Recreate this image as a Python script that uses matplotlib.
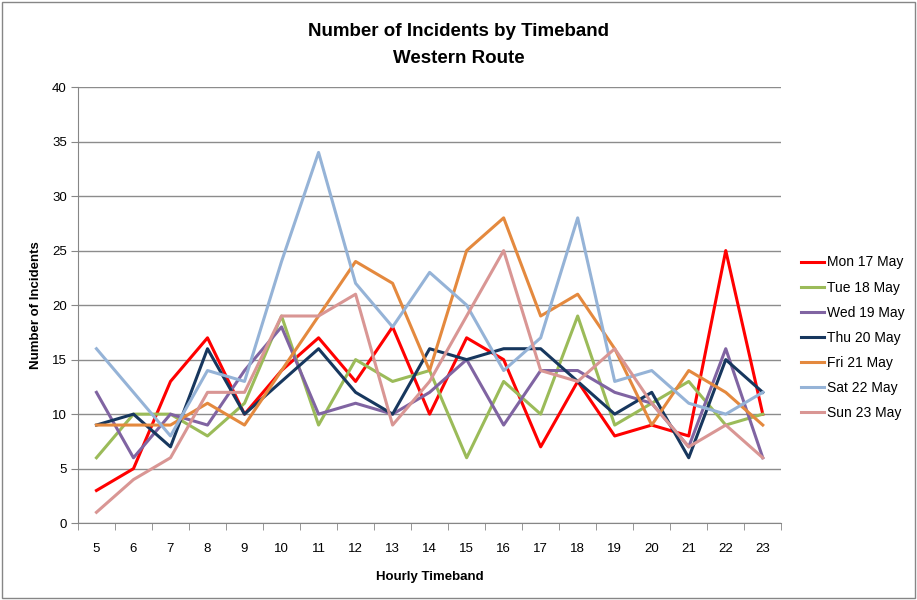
import matplotlib
matplotlib.use("Agg")
import matplotlib.pyplot as plt
from matplotlib.patches import Rectangle

# horas (eje x) e incidencias por dia
hours = list(range(5, 24))
days = ["Mon 17 May", "Tue 18 May", "Wed 19 May", "Thu 20 May",
        "Fri 21 May", "Sat 22 May", "Sun 23 May"]

mon = [3, 5, 13, 17, 10, 14, 17, 13, 18, 10, 17, 15, 7, 13, 8, 9, 8, 25, 10]
tue = [6, 10, 10, 8, 11, 19, 9, 15, 13, 14, 6, 13, 10, 19, 9, 11, 13, 9, 10]
wed = [12, 6, 10, 9, 14, 18, 10, 11, 10, 12, 15, 9, 14, 14, 12, 11, 7, 16, 6]
thu = [9, 10, 7, 16, 10, 13, 16, 12, 10, 16, 15, 16, 16, 13, 10, 12, 6, 15, 12]
fri = [9, 9, 9, 11, 9, 14, 19, 24, 22, 14, 25, 28, 19, 21, 16, 9, 14, 12, 9]
sat = [16, 12, 8, 14, 13, 24, 34, 22, 18, 23, 20, 14, 17, 28, 13, 14, 11, 10, 12]
sun = [1, 4, 6, 12, 12, 19, 19, 21, 9, 13, 19, 25, 14, 13, 16, 11, 7, 9, 6]

series = [mon, tue, wed, thu, fri, sat, sun]
colors = ["#FF0000", "#9BBB59", "#8064A2", "#17375E",
          "#E4893E", "#95B3D7", "#D99694"]

plt.rcParams["font.family"] = ["Liberation Sans", "DejaVu Sans"]

fig = plt.figure(figsize=(9.17, 6), dpi=100)
ax = fig.add_axes([0.085, 0.128, 0.767, 0.727])

# borde exterior del grafico
fig.patches.append(Rectangle((0.002, 0.004), 0.996, 0.992, transform=fig.transFigure,
                             fill=False, edgecolor="#868686", linewidth=1))

x = list(range(len(hours)))
for vals, name, c in zip(series, days, colors):
    ax.plot(x, vals, color=c, linewidth=2.2, label=name)

ax.set_xlim(-0.5, len(hours) - 0.5)
ax.set_ylim(0, 40)
ax.set_yticks(range(0, 41, 5))
ax.set_xticks(x)
ax.set_xticklabels(hours)
ax.set_xticks([i - 0.5 for i in range(len(hours) + 1)], minor=True)
ax.tick_params(axis="x", which="major", length=0, pad=14, labelsize=9.5)
ax.tick_params(axis="x", which="minor", length=5, color="#868686")
ax.tick_params(axis="y", length=5, color="#868686", labelsize=9.5, pad=3)

ax.grid(axis="y", color="#8C8C8C", linewidth=1)
ax.set_axisbelow(True)
for s in ["top", "right"]:
    ax.spines[s].set_visible(False)
for s in ["left", "bottom"]:
    ax.spines[s].set_color("#868686")

ax.set_xlabel("Hourly Timeband", fontsize=9.5, fontweight="bold", labelpad=12)
ax.set_ylabel("Number of Incidents", fontsize=9.5, fontweight="bold", labelpad=7)

fig.text(0.5, 0.948, "Number of Incidents by Timeband", ha="center", va="center",
         fontsize=13.5, fontweight="bold")
fig.text(0.5, 0.903, "Western Route", ha="center", va="center",
         fontsize=13.5, fontweight="bold")

ax.legend(loc="center left", bbox_to_anchor=(1.01, 0.425), frameon=False,
          fontsize=10, handlelength=1.7, handletextpad=0.2, labelspacing=0.8)

fig.savefig("out.png", dpi=100)
